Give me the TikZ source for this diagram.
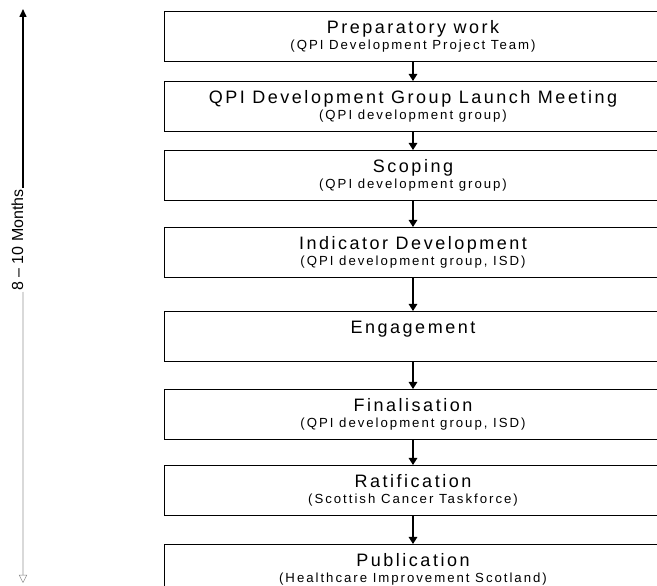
\documentclass[tikz,border=0pt]{standalone}
\usepackage{fontspec}
\setmainfont{Liberation Sans}
\newfontfamily\boxfont[LetterSpace=14]{Liberation Sans}
\newfontfamily\whofont[LetterSpace=15]{Liberation Sans}
\usetikzlibrary{positioning,arrows.meta}
\tikzset{
x=1pt, y=1pt,
stage/.style={draw, line width=1pt, minimum width=498pt, inner xsep=0pt, inner ysep=0pt,
  text height=22.5pt, text depth=27.5pt, font=\boxfont\fontsize{18}{20}\selectfont},
who/.style={inner sep=0pt, anchor=base, font=\whofont\fontsize{13.2}{15}\selectfont},
flow/.style={-{Triangle[length=7pt,width=8.5pt]}, line width=1.3pt},
}

\begin{document}
\begin{tikzpicture}
        \useasboundingbox (0,0) rectangle (657,586);

        \node[stage,anchor=north] (prep) at (413,575) {Preparatory work};
        \node[stage,below=19pt of prep] (launch) {QPI Development Group Launch Meeting};
        \node[stage,below=18pt of launch] (scope) {Scoping};
        \node[stage,below=26pt of scope] (indic) {Indicator Development};
        \node[stage,below=33pt of indic] (engage) {Engagement};
        \node[stage,below=27pt of engage] (final) {Finalisation};
        \node[stage,below=25pt of final] (ratify) {Ratification};
        \node[stage,below=28pt of ratify] (publish) {Publication};

        % who does each step
        \node[who] (prep-w) at ([yshift=-16pt]prep.base) {(QPI Development Project Team)};
        \node[who] (launch-w) at ([yshift=-16pt]launch.base) {(QPI development group)};
        \node[who] (scope-w) at ([yshift=-16pt]scope.base) {(QPI development group)};
        \node[who] (indic-w) at ([yshift=-16pt]indic.base) {(QPI development group, ISD)};
        \node[who] (final-w) at ([yshift=-16pt]final.base) {(QPI development group, ISD)};
        \node[who] (ratify-w) at ([yshift=-16pt]ratify.base) {(Scottish Cancer Taskforce)};
        \node[who] (publish-w) at ([yshift=-16pt]publish.base) {(Healthcare Improvement Scotland)};

        \draw[flow] (prep) -- (launch);
        \draw[flow] (launch) -- (scope);
        \draw[flow] (scope) -- (indic);
        \draw[flow] (indic) -- (engage);
        \draw[flow] (engage) -- (final);
        \draw[flow] (final) -- (ratify);
        \draw[flow] (ratify) -- (publish);

        % time span on the left
        \node[rotate=90, anchor=base, inner sep=1pt, font=\fontsize{16}{18}\selectfont] (span) at (23,346) {8 – 10 Months};
        \coordinate (span-top) at (23,577);
        \coordinate (span-bot) at (23,3);
        \draw[-{Triangle[length=8pt,width=7pt]}, line width=1.5pt] (span.base east) -- (span-top);
        \draw[draw=gray, double=gray!30, double distance=1.2pt,
              -{Triangle[open,length=8pt,width=8pt]}] (span.base west) -- (span-bot);

    \end{tikzpicture}
\end{document}
